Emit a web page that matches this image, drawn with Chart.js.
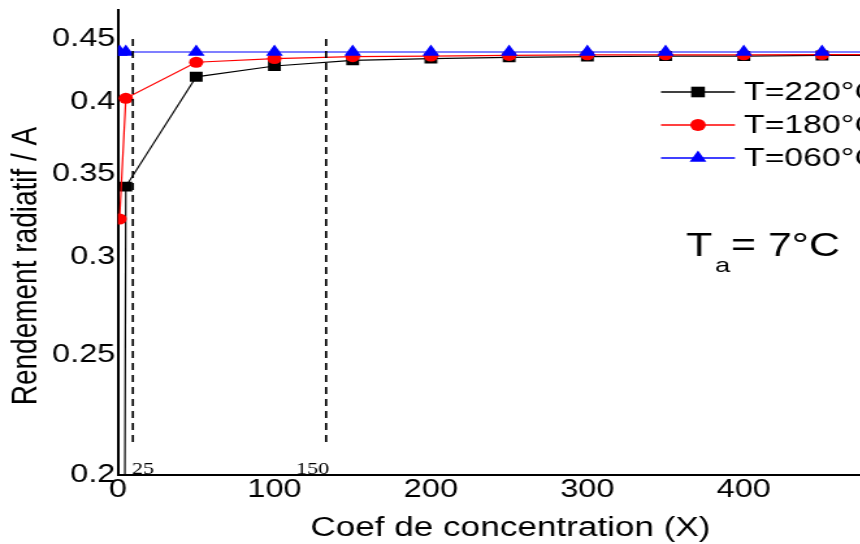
<!DOCTYPE html>
<html lang="fr">
<head>
<meta charset="UTF-8">
<title>Rendement radiatif</title>
<script src="https://cdn.jsdelivr.net/npm/chart.js"></script>
<style>
  html, body { margin: 0; padding: 0; background: #fff; overflow: hidden; width: 860px; height: 544px; }
  /* la figure d'origine est étirée horizontalement */
  canvas { display: block; transform: scaleX(1.3); transform-origin: 0 0; }
</style>
</head>
<body>
<canvas id="rendement" width="700" height="544"></canvas>
<script>
// Valeurs
const coefX = [1, 5, 50, 100, 150, 200, 250, 300, 350, 400, 450, 500];
const rendT220 = [0.01, 0.342, 0.4195, 0.428, 0.4325, 0.434, 0.435, 0.4355, 0.436, 0.436, 0.4365, 0.4365];
const rendT180 = [0.322, 0.403, 0.431, 0.434, 0.4355, 0.436, 0.4365, 0.437, 0.437, 0.437, 0.4372, 0.4372];
const rendT060 = [0.4393, 0.4393, 0.4393, 0.4393, 0.4393, 0.4393, 0.4393, 0.4393, 0.4393, 0.4393, 0.4393, 0.4393];
const seriesLabels = ['T=220°C', 'T=180°C', 'T=060°C'];
const yTicks = [0.2, 0.25, 0.3, 0.35, 0.4, 0.45];

// lignes verticales en tirets et leurs étiquettes
const dashX = [9.5, 133];
const dashLabels = ['25', '150'];

const S = 1.3; // étirement horizontal
const FONT = "'Liberation Sans', Arial, sans-serif";

const toPts = (ys) => coefX.map((x, i) => ({ x: x, y: ys[i] }));

function drawMarker(ctx, style, r, x, y, color) {
    ctx.fillStyle = color;
    ctx.beginPath();
    if (style === 'rect') {
        const s = r * Math.SQRT1_2;
        ctx.rect(x - s, y - s, 2 * s, 2 * s);
    } else if (style === 'triangle') {
        ctx.moveTo(x, y - r);
        ctx.lineTo(x + r * Math.sin(Math.PI / 3), y + r / 2);
        ctx.lineTo(x - r * Math.sin(Math.PI / 3), y + r / 2);
        ctx.closePath();
    } else {
        ctx.arc(x, y, r, 0, Math.PI * 2);
    }
    ctx.fill();
}

// Légende, titres et annotations
const annotations = {
    id: 'annotations',
    afterDatasetsDraw(chart) {
        const ctx = chart.ctx;
        const xs = chart.scales.x, ys = chart.scales.y;
        const area = chart.chartArea;

        // tirets verticaux
        ctx.save();
        ctx.strokeStyle = '#000';
        ctx.lineWidth = 1.7;
        ctx.setLineDash([7, 5]);
        dashX.forEach(v => {
            const px = xs.getPixelForValue(v);
            ctx.beginPath();
            ctx.moveTo(px, ys.getPixelForValue(0.45));
            ctx.lineTo(px, ys.getPixelForValue(0.2115));
            ctx.stroke();
        });
        ctx.setLineDash([]);
        ctx.fillStyle = '#000';
        ctx.font = "17px 'Liberation Serif', 'Times New Roman', serif";
        ctx.textBaseline = 'alphabetic';
        ctx.textAlign = 'left';
        ctx.fillText(dashLabels[0], xs.getPixelForValue(dashX[0]) - 1 / S, area.bottom - 1);
        ctx.textAlign = 'right';
        ctx.fillText(dashLabels[1], xs.getPixelForValue(dashX[1]) + 3 / S, area.bottom - 1);
        ctx.restore();

        // légende
        ctx.save();
        chart.data.datasets.forEach((ds, i) => {
            const y = 92 + i * 33;
            ctx.strokeStyle = ds.borderColor;
            ctx.lineWidth = 1.3;
            ctx.beginPath();
            ctx.moveTo(661 / S, y);
            ctx.lineTo(735 / S, y);
            ctx.stroke();
            drawMarker(ctx, ds.pointStyle, ds.legendRadius, 698 / S, y, ds.pointBackgroundColor);
            ctx.fillStyle = '#000';
            ctx.font = '26px ' + FONT;
            ctx.textAlign = 'left';
            ctx.textBaseline = 'middle';
            ctx.fillText(ds.label, 744 / S, y + 1);
        });

        // T_a = 7°C
        ctx.fillStyle = '#000';
        ctx.textBaseline = 'alphabetic';
        ctx.textAlign = 'left';
        ctx.font = '33px ' + FONT;
        ctx.fillText('T', 686 / S, 256);
        ctx.font = '21px ' + FONT;
        ctx.fillText('a', 715 / S, 272);
        ctx.font = '33px ' + FONT;
        ctx.fillText('= 7°C', 731 / S, 256);

        // titres des axes
        ctx.textAlign = 'center';
        ctx.textBaseline = 'middle';
        ctx.font = '27px ' + FONT;
        ctx.fillText('Coef de concentration (X)', (area.left + area.right) / 2 + 1, 529);
        ctx.translate(27 / S, 266);
        ctx.rotate(-Math.PI / 2);
        ctx.font = '28px ' + FONT;
        ctx.fillText('Rendement radiatif / A', 0, 0);
        ctx.restore();
    }
};

const ctx = document.getElementById('rendement').getContext('2d');
const chart = new Chart(ctx, {
    type: 'line',
    data: {
        datasets: [
            {
                label: seriesLabels[0],
                data: toPts(rendT220),
                borderColor: '#000000',
                backgroundColor: '#000000',
                pointBackgroundColor: '#000000',
                pointBorderWidth: 0,
                borderWidth: 1.2,
                pointStyle: 'rect',
                pointRadius: 7,
                legendRadius: 7.5,
                order: 3
            },
            {
                label: seriesLabels[1],
                data: toPts(rendT180),
                borderColor: '#ff0000',
                backgroundColor: '#ff0000',
                pointBackgroundColor: '#ff0000',
                pointBorderWidth: 0,
                borderWidth: 1.2,
                pointStyle: 'circle',
                pointRadius: 5.5,
                legendRadius: 6,
                order: 2
            },
            {
                label: seriesLabels[2],
                data: toPts(rendT060),
                borderColor: '#0000ff',
                backgroundColor: '#0000ff',
                pointBackgroundColor: '#0000ff',
                pointBorderWidth: 0,
                borderWidth: 1.2,
                pointStyle: 'triangle',
                pointRadius: 7.5,
                legendRadius: 7.5,
                order: 1
            }
        ]
    },
    options: {
        responsive: false,
        animation: false,
        layout: { padding: { top: 10, right: 700 - 904.5 / S, left: 0, bottom: 0 } },
        plugins: {
            legend: { display: false },
            tooltip: { enabled: false }
        },
        scales: {
            x: {
                type: 'linear',
                min: 0,
                max: 500,
                grid: { display: false, drawTicks: false },
                border: { display: true, color: '#000', width: 2 },
                ticks: {
                    stepSize: 100,
                    color: '#000',
                    padding: 0,
                    maxRotation: 0,
                    font: { family: FONT, size: 25 }
                },
                title: { display: false },
                afterFit: s => {
                    s.height = 69;
                    s.paddingLeft = 0;
                    s.paddingRight = 0;
                }
            },
            y: {
                type: 'logarithmic',
                min: 0.2,
                max: 0.475,
                grid: { display: false, drawTicks: false },
                border: { display: true, color: '#000', width: 2 },
                afterBuildTicks: s => { s.ticks = yTicks.map(v => ({ value: v })); },
                ticks: {
                    color: '#000',
                    padding: 2,
                    font: { family: FONT, size: 25 },
                    callback: v => String(v)
                },
                title: { display: false },
                afterFit: s => {
                    s.width = 118 / S;
                    s.paddingTop = 0;
                    s.paddingBottom = 0;
                }
            }
        }
    },
    plugins: [annotations]
});
</script>
</body>
</html>
